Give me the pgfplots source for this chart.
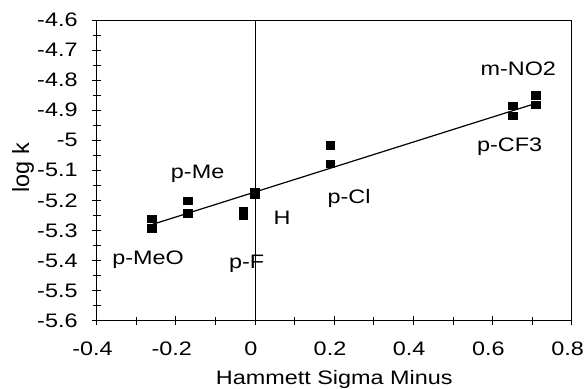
\documentclass[border=0pt]{standalone}
\usepackage{fontspec}
\setmainfont{Liberation Sans}
\usepackage{pgfplots}
\pgfplotsset{compat=1.18}
\begin{document}
\begin{tikzpicture}[x=1bp,y=1bp]
\useasboundingbox (-96.7,-67.3) rectangle (489.3,320.7);
\begin{axis}[
  at={(0,0)}, anchor=south west,
  scale only axis, width=475bp, height=300.7bp,
  xmin=-0.4, xmax=0.8, ymin=-5.6, ymax=-4.6,
  xtick={-0.4,-0.2,0,0.2,0.4,0.6,0.8},
  ytick={-5.6,-5.5,-5.4,-5.3,-5.2,-5.1,-5,-4.9,-4.8,-4.7,-4.6},
  minor tick num=1,
  xtick pos=bottom, ytick pos=left,
  tick align=center,
  major tick length=9bp, minor tick length=8bp,
  every tick/.style={black, line width=0.8bp},
  axis line style={line width=0.8bp},
  /pgf/number format/assume math mode=true,
  /pgf/number format/fixed,
  ticklabel style={font=\fontsize{19.5bp}{23bp}\selectfont, xscale=1.2},
  xticklabel style={anchor=north, inner sep=0pt, yshift=-16bp, xshift=-3.5bp},
  yticklabel style={anchor=east, inner sep=0pt, xshift=-12bp},
  xlabel={Hammett Sigma Minus},
  ylabel={log k},
  label style={font=\fontsize{19.5bp}{23bp}\selectfont},
  xlabel style={at={(axis description cs:0.5,-0.211)}, anchor=base, inner sep=0pt, xscale=1.2},
  ylabel style={at={(axis description cs:-0.155,0.508)}, anchor=center, inner sep=0pt, scale=1.2},
  clip=false,
]
\addplot[black, line width=0.8bp] coordinates {(0,-5.6) (0,-4.6)};
\addplot[black, line width=1.2bp] coordinates {(-0.26,-5.280) (0.71,-4.877)};
\addplot[only marks, mark=square*, mark size=3.7bp, mark options={black, xscale=1.2}] coordinates {
  (-0.26,-5.261) (-0.26,-5.292)
  (-0.17,-5.201) (-0.17,-5.243)
  (-0.03,-5.235) (-0.03,-5.250)
  (0,-5.173) (0,-5.179)
  (0.19,-5.017) (0.19,-5.077)
  (0.65,-4.884) (0.65,-4.918)
  (0.71,-4.850) (0.71,-4.882)
};
\begin{scope}[every node/.style={font=\fontsize{19.5bp}{23bp}\selectfont, xscale=1.2, inner sep=0pt, anchor=center}]
\node at (axis cs:-0.270,-5.398) {p-MeO};
\node at (axis cs:-0.145,-5.110) {p-Me};
\node at (axis cs:-0.021,-5.411) {p-F};
\node at (axis cs:0.068,-5.258) {H};
\node at (axis cs:0.2375,-5.1925) {p-Cl};
\node at (axis cs:0.643,-5.021) {p-CF3};
\node at (axis cs:0.665,-4.761) {m-NO2};
\end{scope}
\end{axis}
\end{tikzpicture}
\end{document}
